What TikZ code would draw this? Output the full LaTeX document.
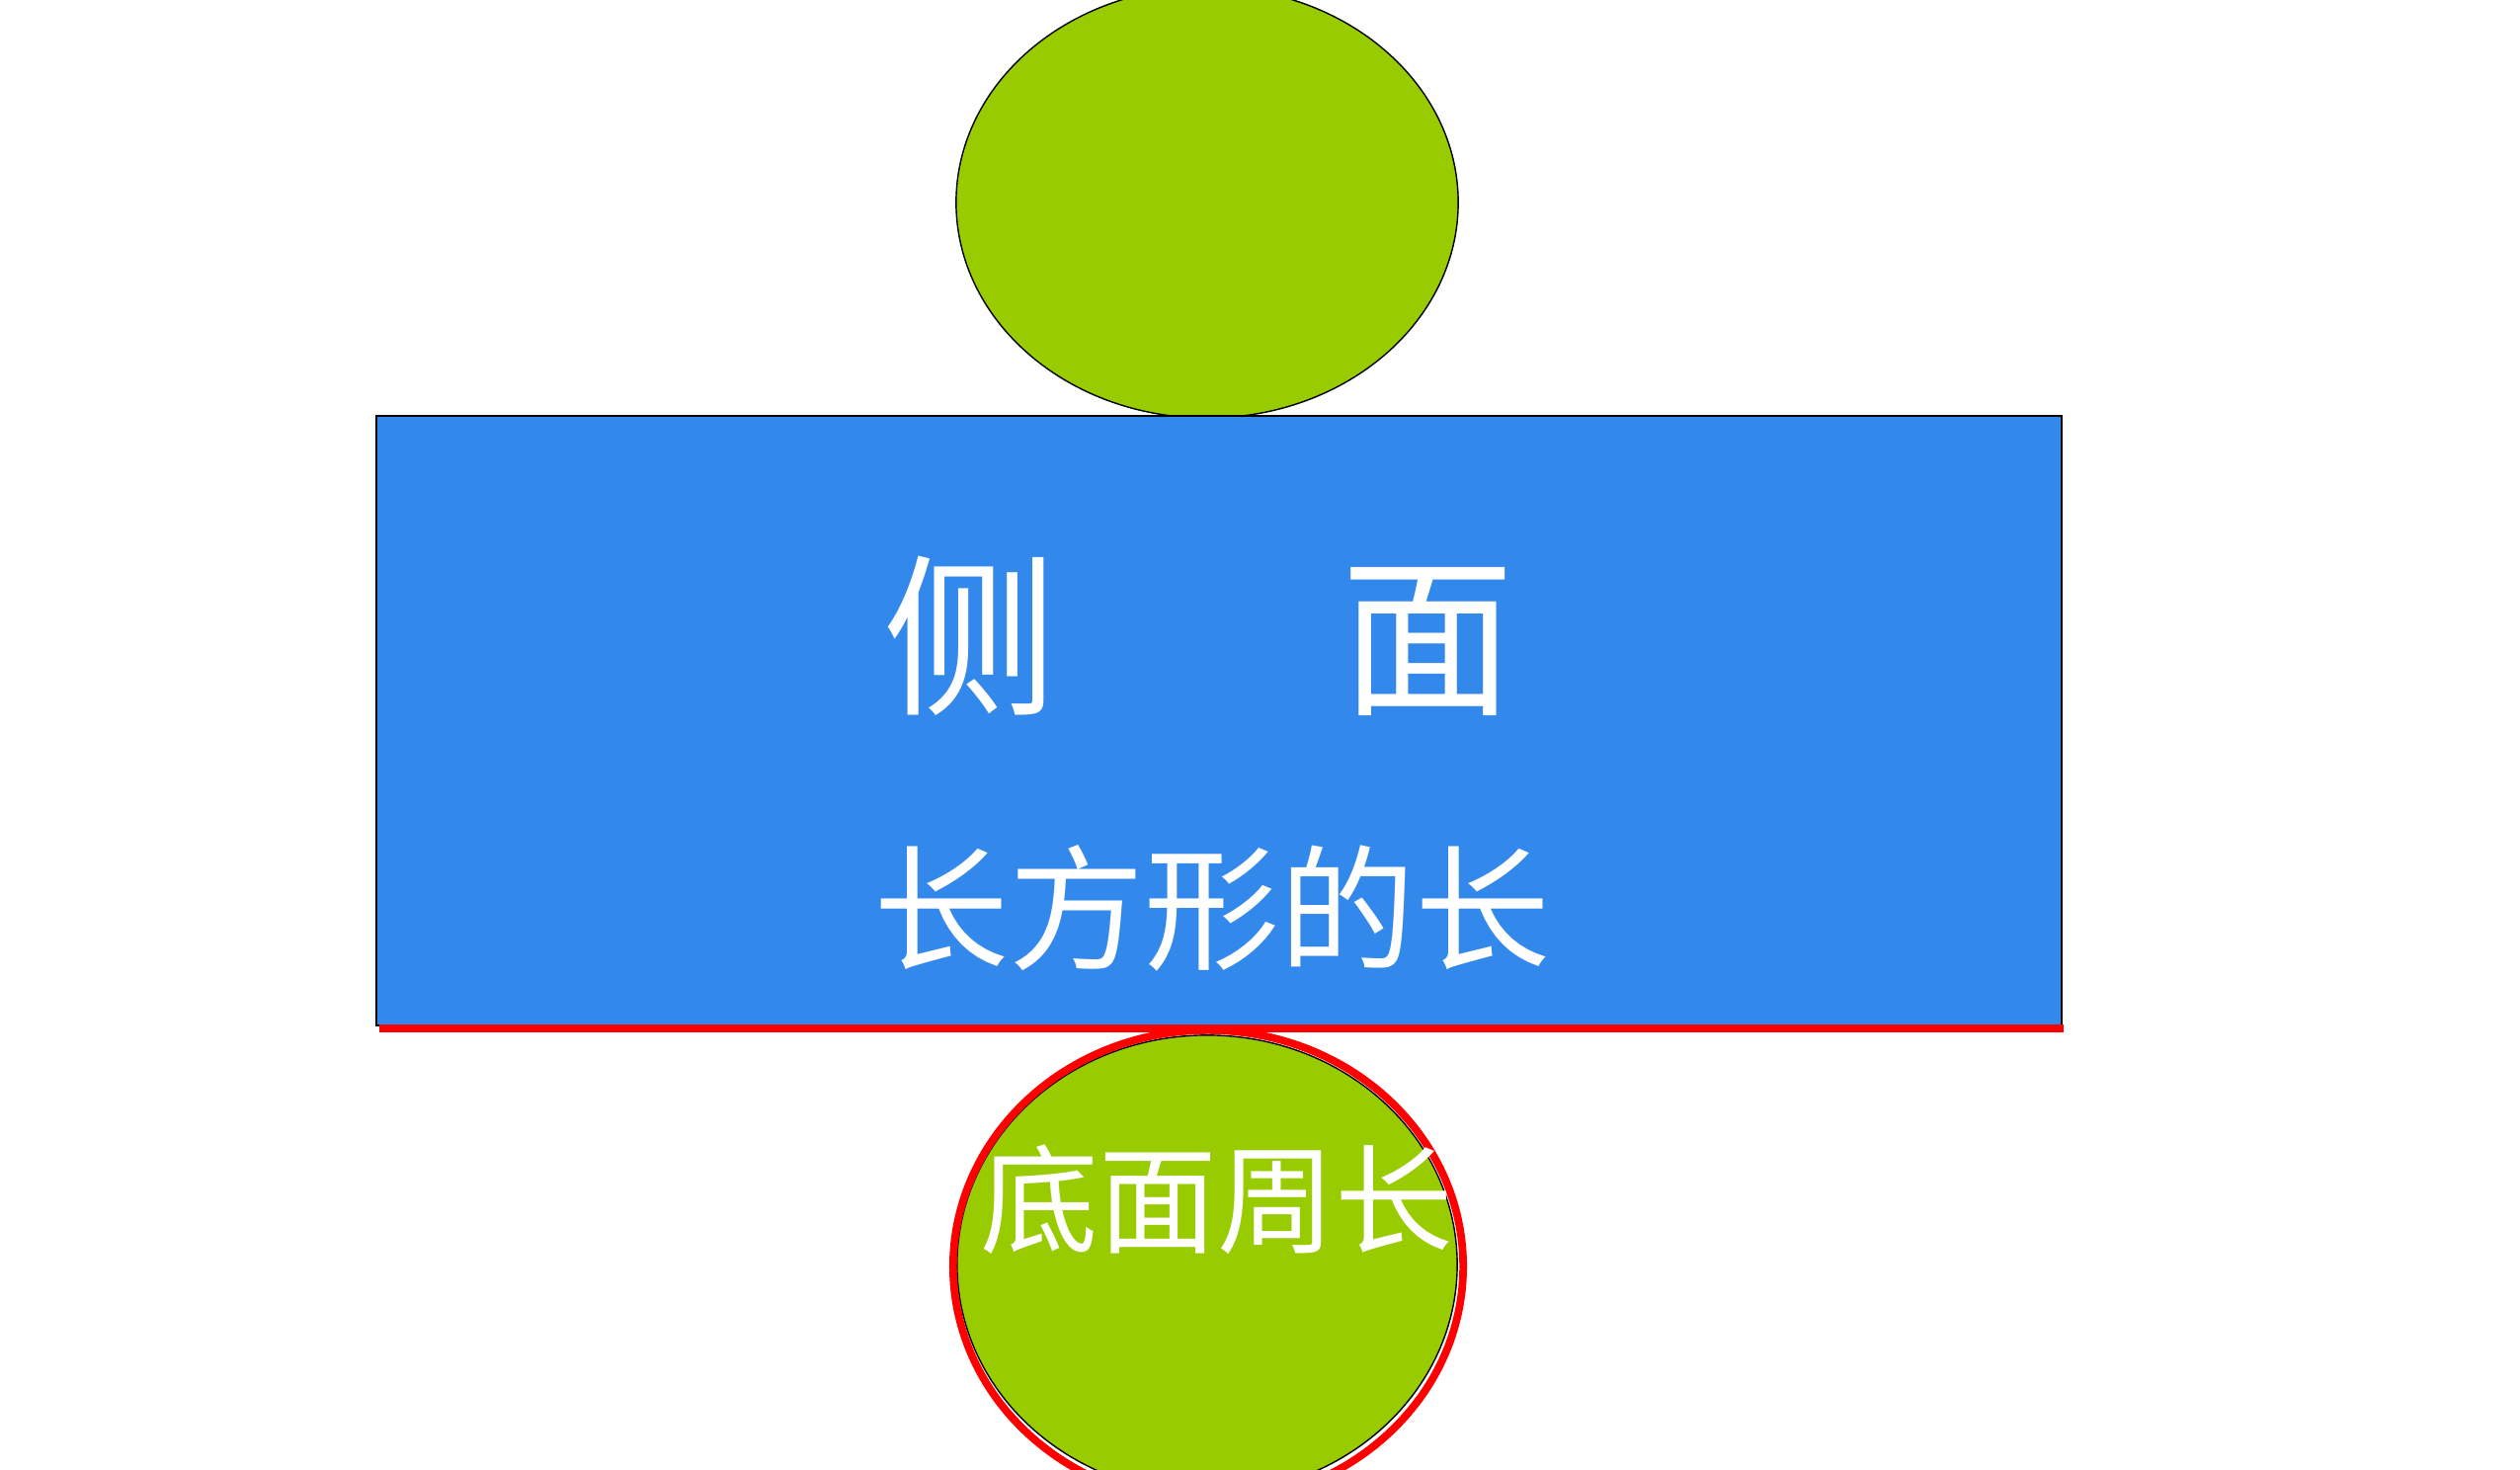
\documentclass[tikz,border=0pt]{standalone}
\usepackage{fontspec}
\newfontfamily\cjk{Noto Sans CJK SC}
\definecolor{lgreen}{HTML}{99CC00}
\definecolor{sblue}{HTML}{3388EC}
\definecolor{pred}{HTML}{FF0000}
\begin{document}
\begin{tikzpicture}[x=0.01cm,y=-0.01cm,
  lbl/.style={text=white,font=\cjk,inner sep=0pt,anchor=center}]
\clip (0,0) rectangle (2551,1488);
\useasboundingbox (0,0) rectangle (2551,1488);
\fill[white] (0,0) rectangle (2551,1488);
% top base
\draw[fill=lgreen,draw=black,line width=0.4pt] (1222,205) ellipse [x radius=2.54cm, y radius=2.18cm];
% lateral face
\draw[fill=sblue,draw=black,line width=0.5pt] (381,421) rectangle (2087,1038);
% red edge (length of the rectangle)
\coordinate (rl) at (384,1041);
\coordinate (rr) at (2089,1041);
\draw[pred,line width=2.4pt] (rl) -- (rr);
% bottom base
\draw[fill=lgreen,draw=black,line width=0.4pt] (1222,1280) ellipse [x radius=2.53cm, y radius=2.32cm];
\draw[pred,line width=2.2pt] (1223,1282) ellipse [x radius=2.58cm, y radius=2.39cm];
% texts
\node[lbl,font=\cjk\fontsize{50pt}{54pt}\selectfont] (side) at (1214,644) {侧\hspace{1.63em}面};
\node[lbl,font=\cjk\fontsize{39pt}{43pt}\selectfont] (len) at (1227,919) {长方形的长};
\node[lbl,font=\cjk\fontsize{34pt}{38pt}\selectfont] (perim) at (1232,1214) {底面周长};
\end{tikzpicture}
\end{document}
